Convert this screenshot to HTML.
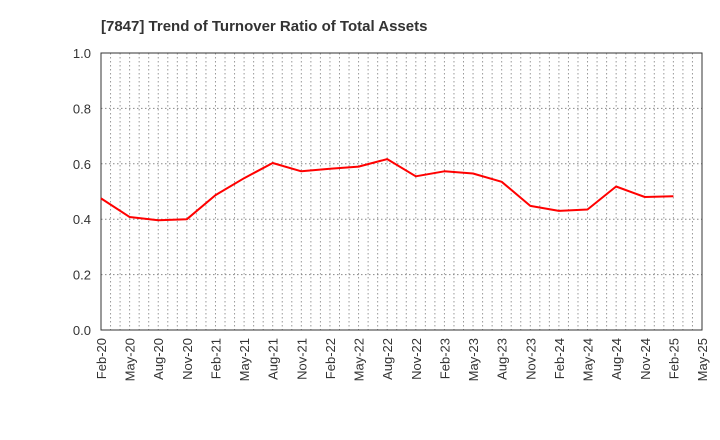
<!DOCTYPE html>
<html><head><meta charset="utf-8"><style>
body{margin:0;background:#fff;}
svg{display:block;font-family:"Liberation Sans",sans-serif;}
</style></head><body>
<svg id="c" width="720" height="440">
<text x="101" y="31" font-size="15" font-weight="bold" fill="#333">[7847]  Trend of Turnover Ratio of Total Assets</text>
<g id="grid"></g><g id="axes"></g><g id="series"></g>
</svg>
<script>
const categories=["Feb-20","May-20","Aug-20","Nov-20","Feb-21","May-21","Aug-21","Nov-21","Feb-22","May-22","Aug-22","Nov-22","Feb-23","May-23","Aug-23","Nov-23","Feb-24","May-24","Aug-24","Nov-24","Feb-25","May-25"];
const values=[0.475,0.408,0.396,0.400,0.487,0.548,0.603,0.573,0.582,0.590,0.617,0.555,0.573,0.565,0.535,0.448,0.430,0.435,0.518,0.480,0.483];
const yTicks=[0,0.2,0.4,0.6,0.8,1.0];
const yTickLabels=["0.0","0.2","0.4","0.6","0.8","1.0"];
const NS="http://www.w3.org/2000/svg";
const L=101,R=702,T=53,B=330;
const nQ=categories.length-1;
function x(i){return L+(R-L)*i/nQ;}
function y(v){return B-(B-T)*v/1.0;}
function mk(tag,attrs,parent){const e=document.createElementNS(NS,tag);for(const k in attrs)e.setAttribute(k,attrs[k]);parent.appendChild(e);return e;}
const grid=document.getElementById('grid'),axes=document.getElementById('axes'),series=document.getElementById('series');
for(let m=1;m<nQ*3;m++){const xx=L+(R-L)*m/(nQ*3);
const g=mk('line',{x1:xx,x2:xx,y1:T,y2:B,stroke:'#999','stroke-dasharray':'1.5,2.5','stroke-width':1},grid);

}
yTicks.forEach((v,i)=>{
if(v>0&&v<1){const g=mk('line',{x1:L,x2:R,y1:y(v),y2:y(v),stroke:'#888','stroke-dasharray':'1.5,2.5','stroke-width':1},grid);

}
const t=mk('text',{x:L-10,y:y(v)+5,'text-anchor':'end','font-size':13,fill:'#333'},axes);t.textContent=yTickLabels[i];


});
const fr=mk('rect',{x:L,y:T,width:R-L,height:B-T,fill:'none',stroke:'#333','stroke-width':1},axes);


categories.forEach((c,i)=>{
const t=mk('text',{transform:`translate(${x(i)+5},${B+8}) rotate(-90)`,'text-anchor':'end','font-size':13,fill:'#333'},axes);t.textContent=c;


});
const pts=values.map((v,i)=>x(i).toFixed(1)+','+y(v).toFixed(1)).join(' ');
const pl=mk('polyline',{points:pts,fill:'none',stroke:'#ff0000','stroke-width':2,'stroke-linejoin':'round'},series);


</script>
</body></html>
